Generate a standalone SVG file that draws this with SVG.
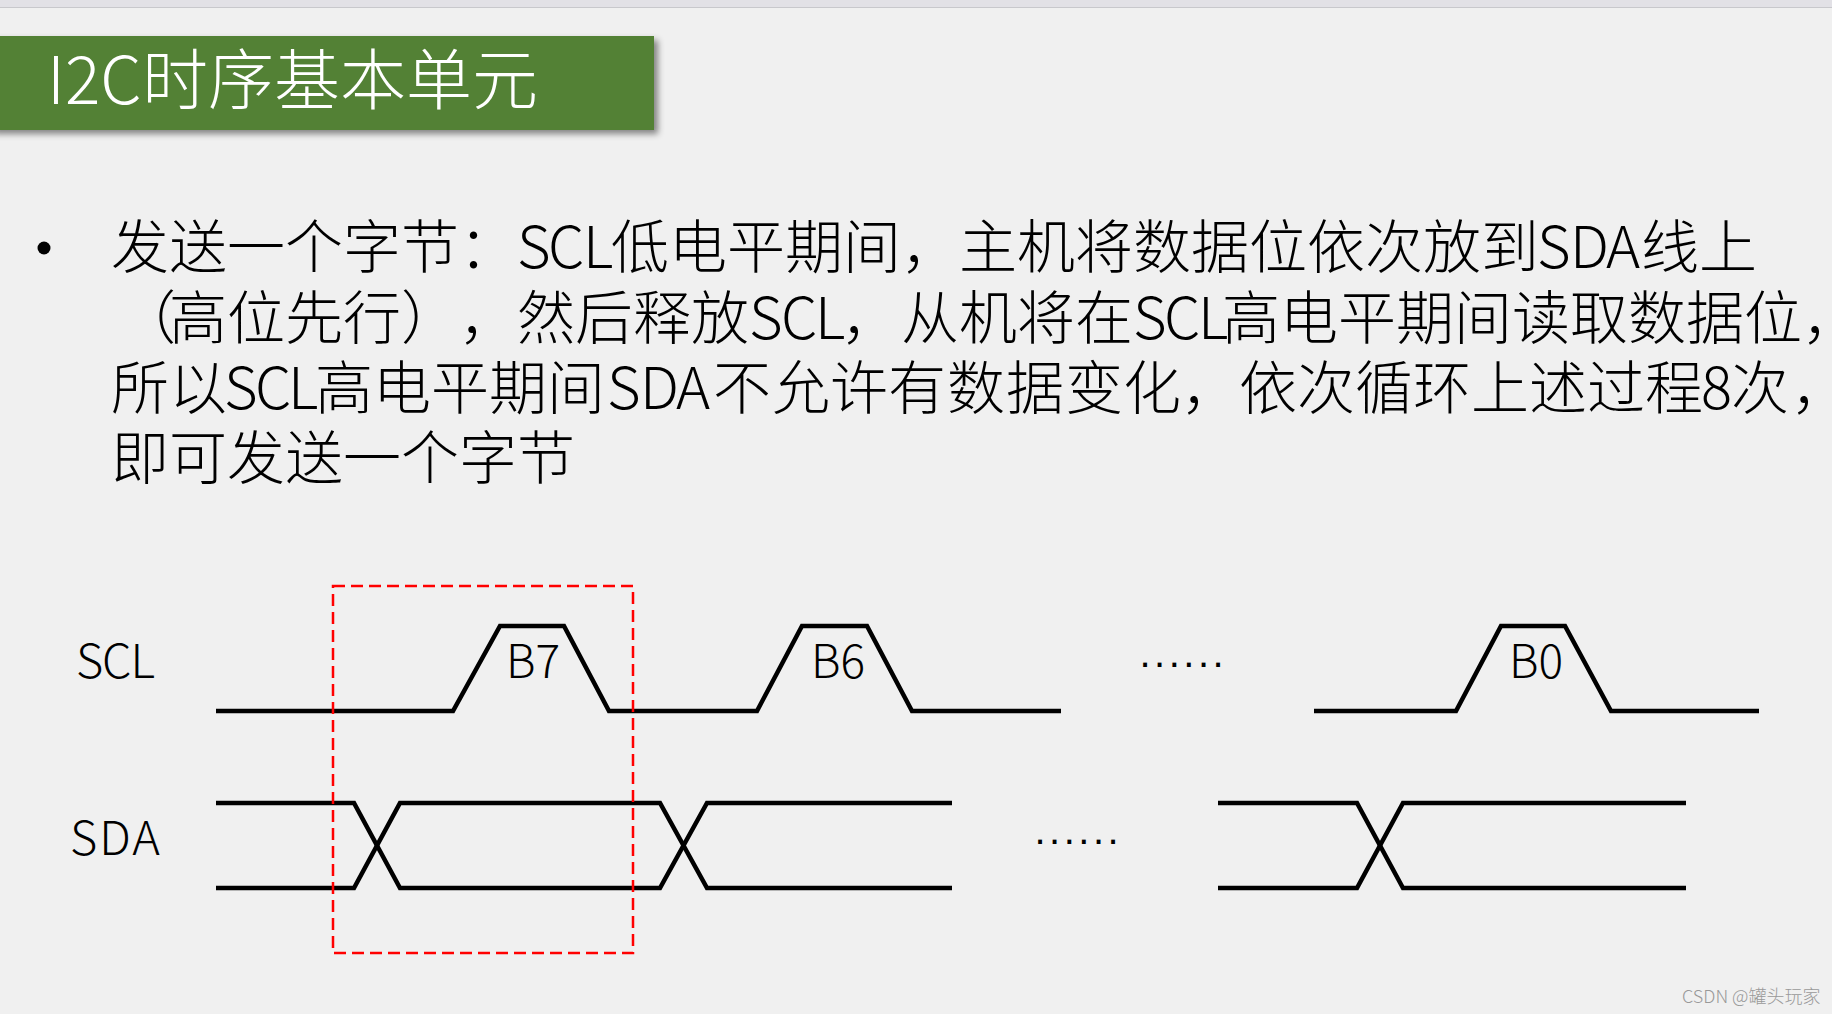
<svg xmlns="http://www.w3.org/2000/svg" width="1832" height="1014" viewBox="0 0 1832 1014">
<style>
.cjk{font-family:"Noto Sans CJK SC","Noto Sans",sans-serif;font-weight:300;}
.body{font-size:58px;fill:#000;}
.lbl{font-size:47px;fill:#000;}
.bit{font-size:46px;fill:#000;}
.dots{font-family:"Liberation Sans",sans-serif;font-size:40px;letter-spacing:3.5px;fill:#000;}
.wave{fill:none;stroke:#000;stroke-width:4.5;}
.halt{font-feature-settings:"halt";}
</style>
<defs>
<filter id="sh" x="-5%" y="-20%" width="115%" height="150%">
<feDropShadow dx="4" dy="4" stdDeviation="3" flood-color="#000" flood-opacity="0.45"/>
</filter>
</defs>
<rect x="0" y="0" width="1832" height="1014" fill="#f0f0f0"/>
<rect x="0" y="0" width="1832" height="7" fill="#e2e1e6"/>
<rect x="0" y="7" width="1832" height="1" fill="#c8c8cc"/>

<g id="title">
<rect x="-10" y="36" width="664" height="94" fill="#538135" filter="url(#sh)"/>
<text class="cjk" y="104" font-size="66" fill="#fff"><tspan x="47">I2C</tspan><tspan x="142">时序基本单元</tspan></text>
</g>

<g id="description">
<circle cx="44" cy="248" r="6.5" fill="#000"/>
<text class="cjk body" y="268" x="111 169 227 285 343 401 459 517 548 583 611 669 727 785 843 901 959 1017 1075 1133 1191 1249 1307 1365 1423 1481 1537 1570 1606 1641 1699">发送一个字节：SCL低电平期间，主机将数据位依次放到SDA线上</text>
<text class="cjk body halt" y="339" x="147 169 227 285 343 401 459 517 575 633 691 749 781 815 841 901 959 1017 1075 1133 1164 1198 1222 1280 1338 1396 1454 1512 1570 1628 1686 1744 1802">（高位先行），然后释放SCL，从机将在SCL高电平期间读取数据位，</text>
<text class="cjk body halt" y="409" x="111 169 224 255 288 315 373 431 489 547 607 640 676 713 772 830 888 947 1006 1065 1123 1181 1239 1297 1355 1413 1471 1529 1587 1645 1701 1731 1791">所以SCL高电平期间SDA不允许有数据变化，依次循环上述过程8次，</text>
<text class="cjk body" x="111" y="479">即可发送一个字节</text>
</g>

<g id="labels">
<text class="cjk lbl" x="76" y="678" textLength="79">SCL</text>
<text class="cjk lbl" x="70" y="855" textLength="90">SDA</text>
<text class="cjk bit" x="506" y="678">B7</text>
<text class="cjk bit" x="811" y="678">B6</text>
<text class="cjk bit" x="1509" y="678">B0</text>
<text class="dots" x="1139.5" y="667">......</text>
<text class="dots" x="1034.5" y="844">......</text>
</g>

<g id="connectors">
<path id="scl-1" class="wave" d="M216,711 H453 L500,626 H564 L609,711 H757 L802,626 H867 L912,711 H1061"/>
<path id="scl-2" class="wave" d="M1314,711 H1456 L1501,626 H1565 L1611,711 H1759"/>
<path id="sda-1a" class="wave" d="M216,803 H354 L400,888 H660 L707,803 H952"/>
<path id="sda-1b" class="wave" d="M216,888 H354 L400,803 H660 L707,888 H952"/>
<path id="sda-2a" class="wave" d="M1218,803 H1357 L1403,888 H1686"/>
<path id="sda-2b" class="wave" d="M1218,888 H1357 L1403,803 H1686"/>
</g>

<g id="highlight">
<rect x="333" y="586" width="300" height="367" fill="none" stroke="#ff0000" stroke-width="2.5" stroke-dasharray="12 6"/>
</g>

<g id="watermark">
<text class="cjk" x="1682" y="1003" font-size="18" fill="#999">CSDN @罐头玩家</text>
</g>
</svg>
